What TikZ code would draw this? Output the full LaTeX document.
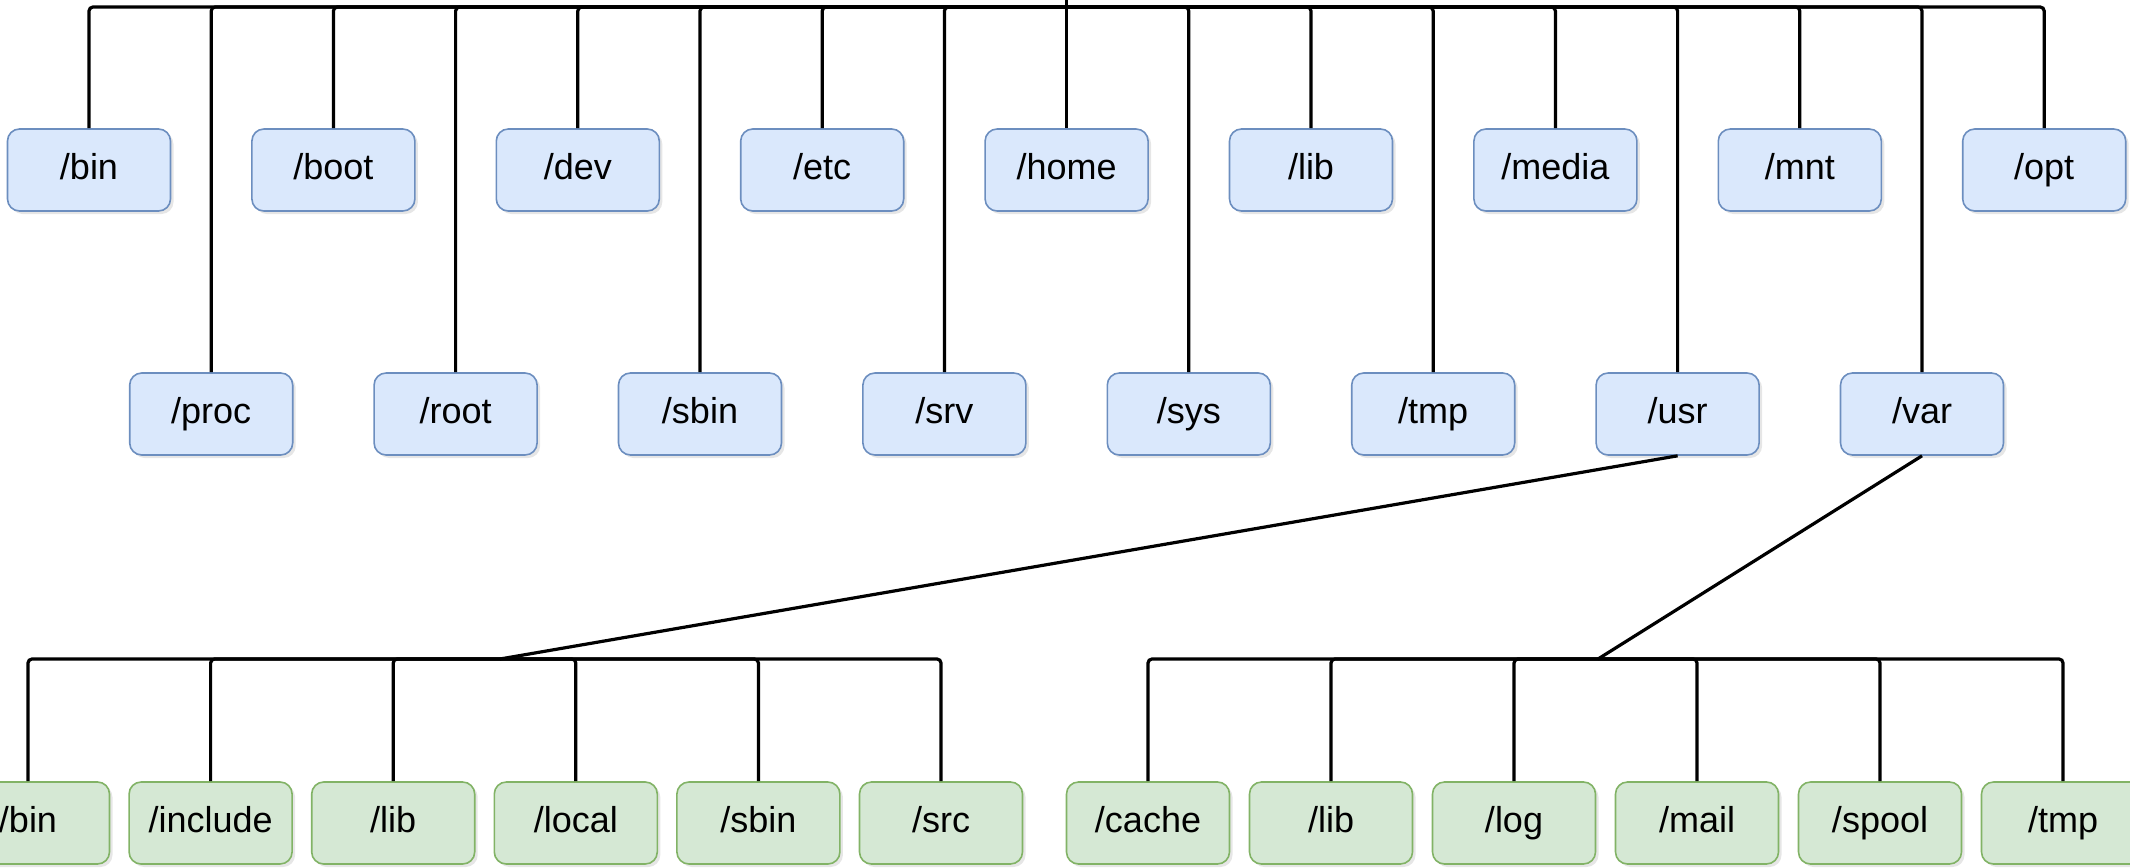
\documentclass[tikz,border=0pt]{standalone}
\usepackage{fontspec}
\setmainfont{Liberation Sans}
\usetikzlibrary{shadows}

\definecolor{bluefill}{HTML}{DAE8FC}
\definecolor{blueline}{HTML}{6C8EBF}
\definecolor{greenfill}{HTML}{D5E8D4}
\definecolor{greenline}{HTML}{82B366}

\tikzset{
	dir/.style={rectangle, rounded corners=6pt, line width=0.8pt,
		minimum width=81.5pt, minimum height=41pt, inner sep=0pt,
		text height=13pt, text depth=3.8pt,
		font=\fontsize{18}{21}\selectfont,
		drop shadow={opacity=0.2, shadow xshift=1.5pt, shadow yshift=-1.5pt}},
	topdir/.style={dir, draw=blueline, fill=bluefill},
	subdir/.style={dir, draw=greenline, fill=greenfill},
	link/.style={draw=black, line width=1.6pt, rounded corners=2pt}
}

\begin{document}
\begin{tikzpicture}[x=0.5pt, y=-0.5pt]
	\useasboundingbox (0,0) rectangle (2130,867);

	% top level
	\node[topdir] (bin)   at (89,170)     {/bin};
	\node[topdir] (proc)  at (211.2,414)  {/proc};
	\node[topdir] (boot)  at (333.4,170)  {/boot};
	\node[topdir] (root)  at (455.6,414)  {/root};
	\node[topdir] (dev)   at (577.8,170)  {/dev};
	\node[topdir] (sbin)  at (700,414)    {/sbin};
	\node[topdir] (etc)   at (822.2,170)  {/etc};
	\node[topdir] (srv)   at (944.4,414)  {/srv};
	\node[topdir] (home)  at (1066.6,170) {/home};
	\node[topdir] (sys)   at (1188.8,414) {/sys};
	\node[topdir] (lib)   at (1311,170)   {/lib};
	\node[topdir] (tmp)   at (1433.2,414) {/tmp};
	\node[topdir] (media) at (1555.4,170) {/media};
	\node[topdir] (usr)   at (1677.6,414) {/usr};
	\node[topdir] (mnt)   at (1799.8,170) {/mnt};
	\node[topdir] (var)   at (1922,414)   {/var};
	\node[topdir] (opt)   at (2044.2,170) {/opt};

	% under /usr
	\node[subdir] (ubin)     at (28,823)    {/bin};
	\node[subdir] (uinclude) at (210.6,823) {/include};
	\node[subdir] (ulib)     at (393.2,823) {/lib};
	\node[subdir] (ulocal)   at (575.8,823) {/local};
	\node[subdir] (usbin)    at (758.4,823) {/sbin};
	\node[subdir] (usrc)     at (941,823)   {/src};

	% under /var
	\node[subdir] (vcache) at (1148,823) {/cache};
	\node[subdir] (vlib)   at (1331,823) {/lib};
	\node[subdir] (vlog)   at (1514,823) {/log};
	\node[subdir] (vmail)  at (1697,823) {/mail};
	\node[subdir] (vspool) at (1880,823) {/spool};
	\node[subdir] (vtmp)   at (2063,823) {/tmp};

	\coordinate (top)    at (1066.6,7);
	\coordinate (usrbar) at (500,659);
	\coordinate (varbar) at (1598,659);

	\draw[link] (1066.6,-2) -- (top);
	\draw[link] (top) -| (bin.north);
	\draw[link] (top) -| (proc.north);
	\draw[link] (top) -| (boot.north);
	\draw[link] (top) -| (root.north);
	\draw[link] (top) -| (dev.north);
	\draw[link] (top) -| (sbin.north);
	\draw[link] (top) -| (etc.north);
	\draw[link] (top) -| (srv.north);
	\draw[link] (top) -- (home.north);
	\draw[link] (top) -| (sys.north);
	\draw[link] (top) -| (lib.north);
	\draw[link] (top) -| (tmp.north);
	\draw[link] (top) -| (media.north);
	\draw[link] (top) -| (usr.north);
	\draw[link] (top) -| (mnt.north);
	\draw[link] (top) -| (var.north);
	\draw[link] (top) -| (opt.north);

	\draw[link] (usr.south) -- (usrbar);
	\draw[link] (usrbar) -| (ubin.north);
	\draw[link] (usrbar) -| (uinclude.north);
	\draw[link] (usrbar) -| (ulib.north);
	\draw[link] (usrbar) -| (ulocal.north);
	\draw[link] (usrbar) -| (usbin.north);
	\draw[link] (usrbar) -| (usrc.north);

	\draw[link] (var.south) -- (varbar);
	\draw[link] (varbar) -| (vcache.north);
	\draw[link] (varbar) -| (vlib.north);
	\draw[link] (varbar) -| (vlog.north);
	\draw[link] (varbar) -| (vmail.north);
	\draw[link] (varbar) -| (vspool.north);
	\draw[link] (varbar) -| (vtmp.north);
\end{tikzpicture}
\end{document}
